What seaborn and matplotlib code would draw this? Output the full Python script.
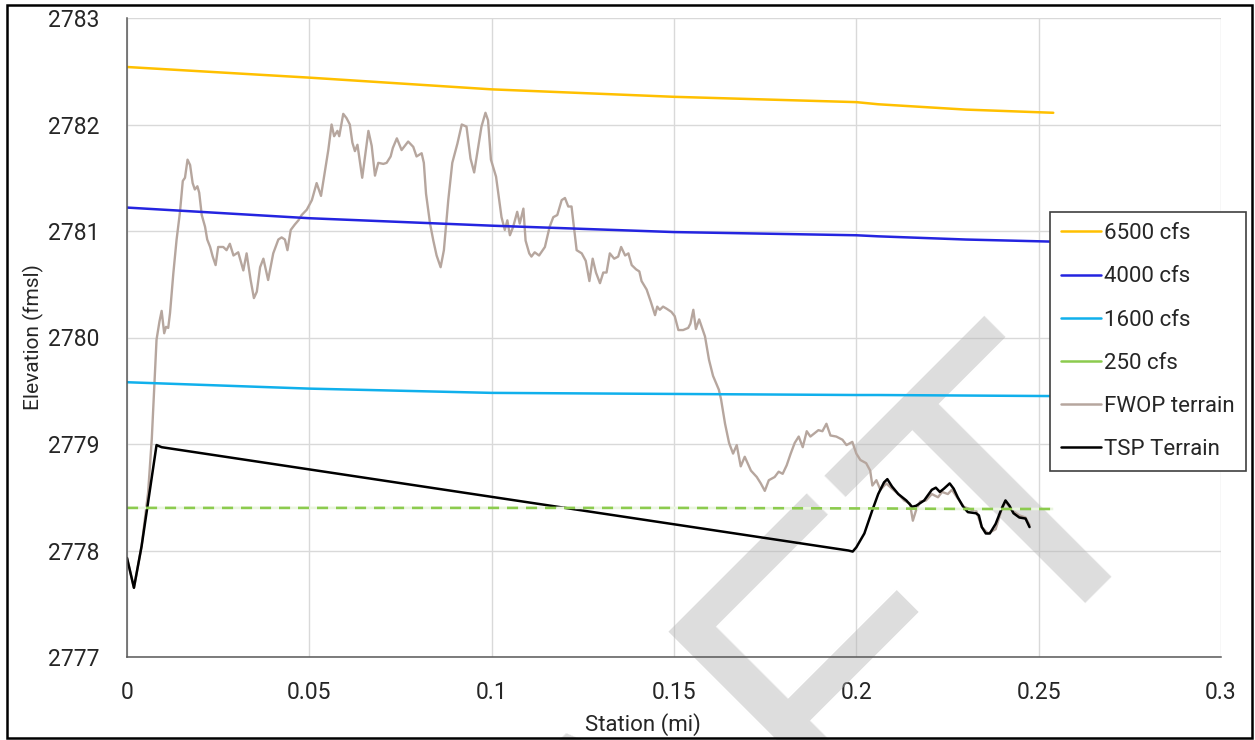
import matplotlib
matplotlib.use("Agg")
import matplotlib.pyplot as plt
from matplotlib.lines import Line2D
from matplotlib.patches import Rectangle
from matplotlib.ticker import MultipleLocator
import seaborn as sns

# Water-surface profiles: station (mi) vs. elevation (ft msl)
wse_station = [0.0, 0.05, 0.10, 0.15, 0.20, 0.206, 0.23, 0.254]
wse_6500 = [2782.54, 2782.44, 2782.33, 2782.26, 2782.21, 2782.19, 2782.14, 2782.11]
wse_4000 = [2781.22, 2781.12, 2781.05, 2780.99, 2780.96, 2780.95, 2780.92, 2780.90]
wse_1600 = [2779.58, 2779.52, 2779.48, 2779.47, 2779.46, 2779.46, 2779.455, 2779.45]
wse_250 = [2778.40, 2778.40, 2778.40, 2778.40, 2778.395, 2778.395, 2778.39, 2778.39]

# Future-without-project ground profile
fwop_station = [
    0.0, 0.0019, 0.0040, 0.0058, 0.0068, 0.0075, 0.0081, 0.0089, 0.0095, 0.0102,
    0.0107, 0.0113, 0.0118, 0.0127, 0.0136, 0.0145, 0.0153, 0.0159, 0.0166, 0.0173,
    0.0180, 0.0186, 0.0193, 0.0198, 0.0205, 0.0214, 0.0220, 0.0228, 0.0235, 0.0243,
    0.0250, 0.0264, 0.0273, 0.0282, 0.0292, 0.0305, 0.0319, 0.0328, 0.0339, 0.0348,
    0.0356, 0.0365, 0.0374, 0.0387, 0.0401, 0.0415, 0.0424, 0.0433, 0.0440, 0.0449,
    0.0460, 0.0470, 0.0479, 0.0493, 0.0507, 0.0520, 0.0532, 0.0540, 0.0552, 0.0561,
    0.0568, 0.0577, 0.0582, 0.0593, 0.0602, 0.0611, 0.0618, 0.0625, 0.0632, 0.0645,
    0.0662, 0.0671, 0.0680, 0.0689, 0.0703, 0.0712, 0.0723, 0.0729, 0.0740, 0.0753,
    0.0771, 0.0785, 0.0794, 0.0808, 0.0814, 0.0820, 0.0831, 0.0840, 0.0849, 0.0860,
    0.0869, 0.0881, 0.0892, 0.0906, 0.0918, 0.0931, 0.0942, 0.0952, 0.0963, 0.0972,
    0.0983, 0.0990, 0.0998, 0.1012, 0.1020, 0.1027, 0.1036, 0.1043, 0.1050, 0.1059,
    0.1070, 0.1077, 0.1087, 0.1093, 0.1103, 0.1109, 0.1118, 0.1130, 0.1146, 0.1159,
    0.1169, 0.1180, 0.1192, 0.1201, 0.1210, 0.1219, 0.1233, 0.1247, 0.1258, 0.1268,
    0.1277, 0.1286, 0.1297, 0.1306, 0.1315, 0.1324, 0.1336, 0.1347, 0.1355, 0.1366,
    0.1375, 0.1384, 0.1396, 0.1405, 0.1411, 0.1425, 0.1436, 0.1448, 0.1454, 0.1461,
    0.1470, 0.1480, 0.1493, 0.1502, 0.1512, 0.1525, 0.1539, 0.1545, 0.1553, 0.1560,
    0.1569, 0.1585, 0.1596, 0.1607, 0.1623, 0.1629, 0.1640, 0.1651, 0.1662, 0.1672,
    0.1683, 0.1694, 0.1711, 0.1727, 0.1738, 0.1749, 0.1760, 0.1776, 0.1787, 0.1798,
    0.1809, 0.1820, 0.1831, 0.1842, 0.1853, 0.1864, 0.1874, 0.1885, 0.1896, 0.1907,
    0.1918, 0.1929, 0.1945, 0.1962, 0.1973, 0.1989, 0.2000, 0.2011, 0.2027, 0.2038,
    0.2044, 0.2055, 0.2066, 0.2082, 0.2098, 0.2115, 0.2131, 0.2147, 0.2155, 0.2164,
    0.2175, 0.2191, 0.2207, 0.2224, 0.2235, 0.2251, 0.2262, 0.2278, 0.2295, 0.2317,
    0.2328, 0.2344, 0.2361, 0.2382, 0.2398, 0.2409, 0.2426, 0.2447, 0.2464, 0.2475,
]
fwop_elev = [
    2777.93, 2777.65, 2778.04, 2778.55, 2779.05, 2779.55, 2779.98, 2780.15, 2780.25, 2780.04,
    2780.10, 2780.09, 2780.23, 2780.60, 2780.92, 2781.17, 2781.47, 2781.50, 2781.67, 2781.62,
    2781.45, 2781.39, 2781.42, 2781.36, 2781.15, 2781.04, 2780.92, 2780.85, 2780.76, 2780.68,
    2780.85, 2780.85, 2780.82, 2780.88, 2780.77, 2780.80, 2780.63, 2780.79, 2780.54, 2780.37,
    2780.43, 2780.66, 2780.74, 2780.54, 2780.79, 2780.92, 2780.94, 2780.92, 2780.82, 2781.01,
    2781.06, 2781.10, 2781.15, 2781.20, 2781.29, 2781.45, 2781.33, 2781.50, 2781.76, 2782.00,
    2781.89, 2781.94, 2781.89, 2782.10, 2782.06, 2782.00, 2781.83, 2781.75, 2781.81, 2781.50,
    2781.94, 2781.80, 2781.52, 2781.64, 2781.63, 2781.64, 2781.70, 2781.78, 2781.87, 2781.76,
    2781.84, 2781.79, 2781.70, 2781.73, 2781.64, 2781.35, 2781.07, 2780.91, 2780.77, 2780.66,
    2780.82, 2781.29, 2781.64, 2781.82, 2782.00, 2781.98, 2781.68, 2781.55, 2781.79, 2781.98,
    2782.11, 2782.04, 2781.67, 2781.51, 2781.31, 2781.13, 2781.01, 2781.10, 2780.96, 2781.04,
    2781.18, 2781.07, 2781.21, 2780.91, 2780.79, 2780.76, 2780.80, 2780.77, 2780.85, 2781.04,
    2781.13, 2781.15, 2781.29, 2781.31, 2781.23, 2781.23, 2780.82, 2780.79, 2780.72, 2780.53,
    2780.74, 2780.61, 2780.51, 2780.61, 2780.61, 2780.79, 2780.74, 2780.76, 2780.85, 2780.77,
    2780.79, 2780.68, 2780.64, 2780.62, 2780.53, 2780.45, 2780.34, 2780.21, 2780.29, 2780.26,
    2780.29, 2780.27, 2780.24, 2780.20, 2780.07, 2780.07, 2780.09, 2780.13, 2780.26, 2780.08,
    2780.17, 2780.01, 2779.79, 2779.64, 2779.51, 2779.42, 2779.19, 2779.01, 2778.91, 2778.99,
    2778.79, 2778.88, 2778.75, 2778.69, 2778.63, 2778.56, 2778.66, 2778.69, 2778.74, 2778.72,
    2778.80, 2778.91, 2779.01, 2779.07, 2778.97, 2779.12, 2779.07, 2779.10, 2779.13, 2779.12,
    2779.19, 2779.08, 2779.07, 2779.04, 2778.99, 2779.02, 2778.91, 2778.85, 2778.82, 2778.75,
    2778.61, 2778.66, 2778.57, 2778.63, 2778.58, 2778.53, 2778.47, 2778.44, 2778.28, 2778.38,
    2778.46, 2778.47, 2778.53, 2778.50, 2778.55, 2778.53, 2778.57, 2778.49, 2778.41, 2778.38,
    2778.38, 2778.22, 2778.16, 2778.20, 2778.38, 2778.46, 2778.38, 2778.33, 2778.31, 2778.24,
]

# Tentatively selected plan ground profile
tsp_station = [
    0.0, 0.0019, 0.0040, 0.0081, 0.0095, 0.1978, 0.1990, 0.2000, 0.2022, 0.2044,
    0.2060, 0.2076, 0.2085, 0.2098, 0.2115, 0.2137, 0.2153, 0.2164, 0.2186, 0.2207,
    0.2218, 0.2229, 0.2240, 0.2256, 0.2267, 0.2278, 0.2293, 0.2306, 0.2328, 0.2336,
    0.2344, 0.2355, 0.2366, 0.2382, 0.2398, 0.2409, 0.2420, 0.2431, 0.2447, 0.2464,
    0.2475,
]
tsp_elev = [
    2777.93, 2777.65, 2778.04, 2778.99, 2778.97, 2778.00, 2777.99, 2778.03, 2778.16, 2778.38,
    2778.53, 2778.64, 2778.67, 2778.60, 2778.53, 2778.47, 2778.41, 2778.42, 2778.47, 2778.57,
    2778.59, 2778.55, 2778.58, 2778.63, 2778.58, 2778.50, 2778.41, 2778.36, 2778.35, 2778.33,
    2778.22, 2778.16, 2778.16, 2778.25, 2778.39, 2778.47, 2778.42, 2778.35, 2778.31, 2778.30,
    2778.22,
]

x_ticks = [0, 0.05, 0.1, 0.15, 0.2, 0.25, 0.3]
x_tick_labels = ["0", "0.05", "0.1", "0.15", "0.2", "0.25", "0.3"]
y_ticks = [2777, 2778, 2779, 2780, 2781, 2782, 2783]

series_labels = ["6500 cfs", "4000 cfs", "1600 cfs", "250 cfs", "FWOP terrain", "TSP Terrain"]
series_colors = ["#FFC000", "#2424E0", "#10B0EC", "#8CCB4E", "#B6A69E", "#000000"]

sns.set_style("white")
plt.rcParams["font.family"] = ["Roboto", "DejaVu Sans"]

fig = plt.figure(figsize=(12.55, 7.40), dpi=100)
fig.patch.set_facecolor("white")
ax = fig.add_axes([127 / 1255, 1 - 657 / 740, 1094 / 1255, 639 / 740])
ax.patch.set_alpha(0)

# Light grid behind everything
ax.set_axisbelow(True)
ax.grid(True, which="major", color="#D9D9D9", linewidth=1.0)

lw = 1.8
sns.lineplot(x=fwop_station, y=fwop_elev, ax=ax, color=series_colors[4], lw=1.7,
             sort=False, estimator=None, zorder=3)
sns.lineplot(x=tsp_station, y=tsp_elev, ax=ax, color=series_colors[5], lw=lw,
             sort=False, estimator=None, zorder=4)
sns.lineplot(x=wse_station, y=wse_6500, ax=ax, color=series_colors[0], lw=lw,
             estimator=None, zorder=3)
sns.lineplot(x=wse_station, y=wse_4000, ax=ax, color=series_colors[1], lw=lw,
             estimator=None, zorder=3)
sns.lineplot(x=wse_station, y=wse_1600, ax=ax, color=series_colors[2], lw=lw,
             estimator=None, zorder=3)
sns.lineplot(x=wse_station, y=wse_250, ax=ax, color=series_colors[3], lw=1.9,
             estimator=None, zorder=5, linestyle=(0, (4.2, 3.0)), gapcolor="#EAF5E0")

ax.set_xlim(0, 0.3)
ax.set_ylim(2777, 2783)
ax.set_xticks(x_ticks)
ax.set_xticklabels(x_tick_labels)
ax.set_yticks(y_ticks)
ax.xaxis.set_minor_locator(MultipleLocator(0.01))

for side in ("top", "right"):
    ax.spines[side].set_visible(False)
for side in ("left", "bottom"):
    ax.spines[side].set_color("#595959")
    ax.spines[side].set_linewidth(1.1)
    ax.spines[side].set_zorder(6)

ax.tick_params(axis="x", which="major", direction="out", length=5, width=1.0,
               color="#595959", labelsize=16.5, pad=12, labelcolor="#262626")
ax.tick_params(axis="x", which="minor", direction="out", length=4, width=1.0,
               color="#595959")
ax.tick_params(axis="y", which="major", direction="out", length=5, width=1.0,
               color="#595959", labelsize=16.5, pad=15, labelcolor="#262626")

ax.set_xlabel("Station (mi)", fontsize=16, color="#262626")
ax.set_ylabel("Elevation (fmsl)", fontsize=15, color="#262626")
ax.xaxis.set_label_coords((643 - 127) / 1094, (657 - 713) / 639)
ax.yaxis.set_label_coords((44 - 127) / 1094, 0.5)

handles = [Line2D([0], [0], color=c, lw=1.8) for c in series_colors]
leg = ax.legend(handles, series_labels, loc="upper left",
                bbox_to_anchor=(1050 / 1255, 1 - 212 / 740), bbox_transform=fig.transFigure,
                frameon=True, fancybox=False, edgecolor="#404040", framealpha=1,
                fontsize=16, handlelength=1.8, handletextpad=0.15,
                labelspacing=1.0, borderpad=0.5, borderaxespad=0)
leg.get_frame().set_linewidth(1.2)
leg.set_zorder(10)
for t in leg.get_texts():
    t.set_color("#262626")

# Watermark stamp
ax.text(1175 / 1255, 1 - 479 / 740, "DRAFT", transform=fig.transFigure,
        rotation=45, rotation_mode="anchor", ha="right", va="baseline",
        fontsize=288, family="Liberation Sans", color="#B5B5B5", alpha=0.45,
        zorder=2, clip_on=False)

# Outer frame around the whole graphic
fig.add_artist(Rectangle((7 / 1255, 2 / 740), 1245 / 1255, 733 / 740,
                         transform=fig.transFigure, fill=False,
                         edgecolor="black", linewidth=1.8, zorder=20))

fig.savefig("out.png", dpi=100, facecolor="white")
